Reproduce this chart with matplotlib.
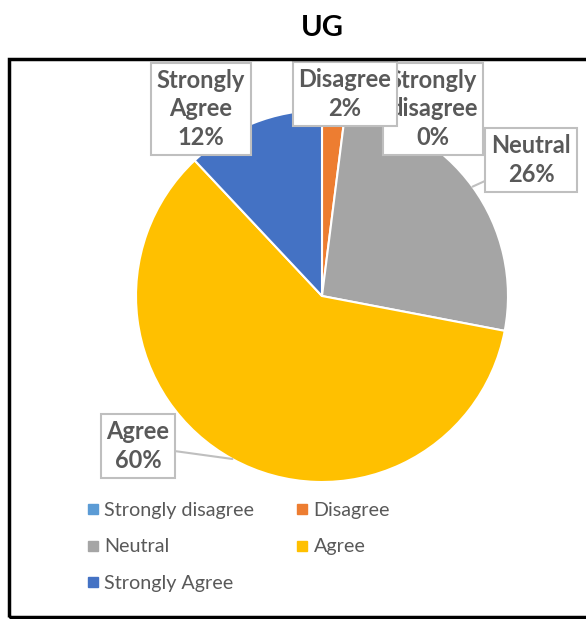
import numpy as np
import matplotlib.pyplot as plt
from matplotlib.lines import Line2D
from matplotlib.patches import Rectangle

plt.rcParams['font.family'] = ['Lato', 'DejaVu Sans']

# data
categories = ['Strongly disagree', 'Disagree', 'Neutral', 'Agree', 'Strongly Agree']
values = [0, 2, 26, 60, 12]
colors = ['#5B9BD5', '#ED7D31', '#A5A5A5', '#FFC000', '#4472C4']
label_names = ['Strongly\ndisagree', 'Disagree', 'Neutral', 'Agree', 'Strongly\nAgree']

W, H = 586, 619
fig = plt.figure(figsize=(W / 100, H / 100), dpi=100)

# pie centred at (322, 296) px, radius 186 px
cx, cy, r = 322, 296, 186
ax = fig.add_axes([(cx - r) / W, (H - cy - r) / H, 2 * r / W, 2 * r / H])
ax.pie(values, colors=colors, startangle=90, counterclock=False,
       wedgeprops=dict(edgecolor='white', linewidth=1.5))
ax.set_xlim(-1, 1)
ax.set_ylim(-1, 1)
ax.set_aspect('equal')
ax.axis('off')


def to_data(px, py):
    return (px - cx) / r, (cy - py) / r


# label box centres in pixels
label_pos = [(433, 109), (345, 94), (531, 160), (138, 446), (201, 109)]
leaders = [False, False, True, True, False]
zorders = [5, 6, 5, 5, 5]
text_color = '#595959'
box = dict(boxstyle='square,pad=0.25', fc='white', ec='#BFBFBF', lw=1.5)
lab_fs = 17

cum = np.cumsum([0] + values[:-1])
for i, name in enumerate(label_names):
    txt = f'{name}\n{values[i]}%'
    tx, ty = to_data(*label_pos[i])
    if leaders[i]:
        mid = (cum[i] + values[i] / 2) / 100 * 2 * np.pi
        tip = (np.sin(mid), np.cos(mid))
        ax.annotate(txt, xy=tip, xytext=(tx, ty), ha='center', va='center',
                    fontsize=lab_fs, fontweight='bold', color=text_color,
                    linespacing=1.3, bbox=box, annotation_clip=False,
                    arrowprops=dict(arrowstyle='-', color='#BFBFBF', lw=1.5,
                                    shrinkA=0, shrinkB=0), zorder=zorders[i])
    else:
        ax.text(tx, ty, txt, ha='center', va='center', fontsize=lab_fs,
                fontweight='bold', color=text_color, linespacing=1.3,
                bbox=box, zorder=zorders[i], clip_on=False)

# title
fig.text(cx / W, 1 - 28 / H, 'UG', ha='center', va='center',
         fontsize=21, fontweight='bold', color='black')

# chart frame
fig.patches.append(Rectangle((9 / W, 2 / H), 1, 1 - 61 / H,
                             transform=fig.transFigure, fill=False,
                             ec='black', lw=2.5))

# legend, row-wise order like the original
order = [0, 2, 4, 1, 3]
handles = [Line2D([], [], marker='s', ls='', color=colors[k], markersize=7)
           for k in order]
fig.legend(handles, [categories[k] for k in order], ncol=2,
           loc='upper left', bbox_to_anchor=(69 / W, 1 - 484 / H),
           frameon=False, fontsize=14.2, labelcolor=text_color,
           handlelength=0.6, handletextpad=0.3, columnspacing=2.1,
           labelspacing=1.0)

fig.savefig('out.png', dpi=100)
